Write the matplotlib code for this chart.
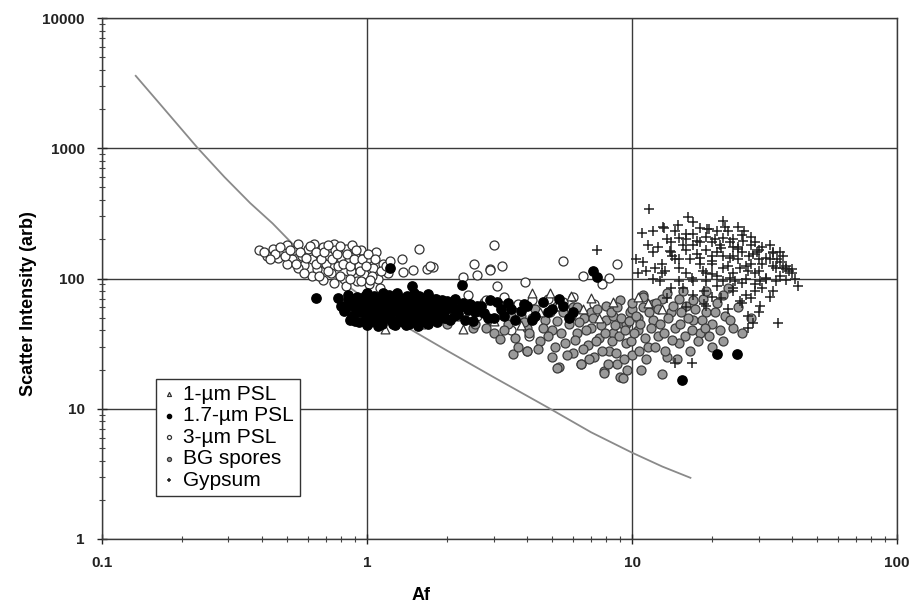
import matplotlib
matplotlib.use('Agg')
import matplotlib.pyplot as plt

plt.rcParams['font.family'] = ['Liberation Sans', 'DejaVu Sans']

# model curve
curve_x = [0.134, 0.17, 0.23, 0.29, 0.362, 0.44, 0.52, 0.62, 0.75, 0.87, 1.0, 1.2, 1.42, 2.0, 3.0, 4.78, 7.0, 10.0, 13.0, 16.6]
curve_y = [3600, 2050, 1000, 600, 380, 265, 187, 140, 105, 84, 68, 53, 42, 28, 17.5, 10.3, 6.6, 4.6, 3.6, 2.95]

# 1-um PSL (open triangles)
psl1_x = [1.17, 1.3, 1.5, 1.6, 1.8, 2.0, 2.3, 2.5, 2.7, 3.0, 3.2, 3.5, 3.8, 4.2, 4.9, 4.5, 5.2, 5.9, 6.5, 7.0, 7.5, 8.5, 10.5, 11.5, 13.0]
psl1_y = [41, 48, 62, 45, 55, 50, 41, 58, 65, 47, 53, 60, 44, 77.6, 77.6, 55, 62, 73.8, 58, 71, 50, 66, 72, 65, 58]

# 1.7-um PSL (filled black)
psl17_x = [0.80, 0.82, 0.85, 0.88, 0.90, 0.92, 0.95, 0.97, 1.0, 1.0, 1.02, 1.05, 1.08, 1.1, 1.12, 1.15, 1.18, 1.2,
           1.22, 1.25, 1.28, 1.3, 1.32, 1.35, 1.38, 1.4, 1.42, 1.45, 1.48, 1.5, 1.55, 1.58, 1.6, 1.65, 1.68, 1.7,
           1.75, 1.8, 1.85, 1.9, 1.95, 2.0, 2.05, 2.1, 2.2, 2.3, 2.4, 2.5, 2.6, 2.75, 2.9, 3.0, 3.2, 3.4, 3.6, 3.8,
           4.0, 4.3, 4.6, 5.0, 5.5, 6.0,
           0.9, 1.0, 1.1, 1.25, 1.4, 1.55, 1.7, 0.85, 1.0, 1.15, 1.3, 1.5, 1.7,
           0.64, 0.78, 1.48, 2.28, 7.1, 7.4, 21.0, 24.9, 15.4, 1.22,
           0.84, 0.86, 0.87, 0.89, 0.91, 0.93, 0.94, 0.96, 0.98, 0.99,
           1.03, 1.04, 1.06, 1.07, 1.09, 1.11, 1.13, 1.14, 1.16, 1.17,
           1.19, 1.21, 1.23, 1.24, 1.26, 1.27, 1.29, 1.31, 1.33, 1.34,
           1.36, 1.37, 1.39, 1.41, 1.43, 1.44, 1.46, 1.47, 1.49, 1.52,
           1.53, 1.56, 1.57, 1.59, 1.62, 1.63, 1.66, 1.67, 1.72, 1.73,
           1.77, 1.79, 1.82, 1.84, 1.88, 1.92, 1.97, 2.02, 2.12, 2.15,
           2.25, 2.35, 2.45, 2.55, 2.7, 2.85, 3.1, 3.3, 3.5, 3.9, 4.2, 4.8, 5.3, 5.8]
psl17_y = [62, 56, 68, 52, 60, 72, 55, 64, 50, 58, 70, 62, 54, 66, 48, 58, 72, 52,
           62, 56, 68, 47, 60, 53, 65, 58, 74, 50, 62, 56, 68, 52, 60, 46, 64, 55,
           70, 58, 50, 63, 55, 67, 48, 60, 53, 65, 57, 47, 62, 54, 68, 50, 58, 65, 48, 56,
           62, 52, 66, 58, 62, 55,
           47, 44, 43, 45, 44, 43, 45, 75, 77, 78, 78, 77, 76,
           70.5, 70.5, 88, 89, 115, 103, 26.4, 26.4, 16.7, 120,
           60, 48, 64, 70, 55, 46, 66, 59, 74, 52,
           46, 57, 73, 50, 60, 69, 55, 45, 64, 51,
           60, 75, 48, 66, 58, 44, 63, 54, 71, 49,
           60, 46, 68, 53, 62, 45, 56, 70, 48, 64,
           52, 59, 74, 47, 66, 55, 50, 61, 48, 66,
           53, 62, 70, 46, 57, 68, 50, 59, 52, 70,
           60, 48, 64, 55, 62, 50, 66, 52, 58, 64, 48, 55, 70, 50]

# 3-um PSL (open circles)
psl3_x = [0.39, 0.42, 0.44, 0.46, 0.48, 0.50, 0.52, 0.53, 0.55, 0.57, 0.58, 0.60, 0.62, 0.63, 0.65, 0.66, 0.68,
          0.70, 0.72, 0.73, 0.75, 0.76, 0.78, 0.80, 0.82, 0.83, 0.85, 0.87, 0.88, 0.90, 0.92, 0.93, 0.95, 0.97,
          1.0, 1.02, 1.05, 1.08, 1.1, 1.12, 1.15, 1.2, 0.62, 0.68, 0.75, 0.83, 0.55, 0.5, 0.45,
          0.41, 0.43, 0.47, 0.49, 0.51, 0.54, 0.56, 0.59, 0.61, 0.64, 0.64, 0.67, 0.69, 0.71, 0.71, 0.74,
          0.77, 0.79, 0.79, 0.81, 0.84, 0.86, 0.89, 0.91, 0.94, 0.96, 0.99, 1.01, 1.04, 1.07, 1.13, 1.18,
          0.86, 0.95, 1.03, 0.58, 0.66,
          1.57, 3.0, 5.5, 1.37, 1.49, 1.68, 1.77, 2.54, 2.92, 3.23, 2.3, 2.6, 3.95, 6.5, 7.7, 8.8, 8.2, 3.1,
          2.9, 1.22, 1.36, 1.73,
          1.8, 2.1, 2.4, 2.8, 3.3, 3.7, 4.2, 4.8, 5.5, 2.6, 3.5, 4.1, 6.0, 7.2]
psl3_y = [165, 150, 170, 145, 160, 180, 140, 165, 185, 150, 128, 170, 140, 185, 118, 155, 175,
          130, 150, 110, 185, 165, 125, 145, 100, 170, 135, 115, 180, 150, 95, 125, 165, 108,
          140, 90, 120, 160, 100, 85, 130, 110, 105, 98, 92, 88, 120, 130, 155,
          160, 140, 175, 150, 165, 130, 160, 145, 178, 160, 130, 140, 160, 180, 115, 140,
          155, 178, 105, 130, 155, 125, 140, 165, 115, 140, 125, 155, 105, 140, 115, 125,
          100, 95, 98, 110, 105,
          169, 181, 137, 112, 117, 119, 122, 130, 119, 125, 103, 107, 94, 105, 91, 130, 101, 88,
          117, 137, 142, 125,
          70, 62, 75, 68, 72, 64, 68, 70, 66, 52, 40, 36, 72, 64]

# BG spores (gray filled circles)
bg_x = [1.5, 1.7, 1.9, 2.0, 2.2, 2.4, 2.5, 2.7, 2.9, 3.0, 3.2, 3.4, 3.6, 3.8, 4.0, 4.0, 4.3, 4.5, 4.7, 5.0,
        5.0, 5.3, 5.5, 5.6, 5.8, 6.0, 6.2, 6.4, 6.6, 6.8, 7.0, 7.2, 7.5, 7.8, 8.0, 8.2, 8.5, 8.8, 9.0, 9.2,
        9.5, 9.8, 10.0, 10.5, 10.8, 11.0, 11.5, 12.0, 12.5, 13.0, 13.0, 13.5, 14.0, 14.5, 15.0, 15.5, 16.0,
        16.5, 17.0, 18.0, 18.5, 19.0, 20.0, 20.0, 21.0, 22.0, 22.5, 24.0, 25.0, 26.0, 23.0, 28.0,
        5.2, 6.4, 9.2, 3.56, 4.0, 7.8, 2.8, 2.56, 3.18,
        6.0, 7.0, 8.0, 9.0, 10.0, 11.0, 12.0, 8.5, 9.5, 10.5,
        3.3, 3.5, 3.7, 3.9, 4.1, 4.2, 4.4, 4.6, 4.8, 4.9, 5.1, 5.2, 5.4, 5.7, 5.9, 6.1, 6.3, 6.5, 6.7, 6.9,
        7.1, 7.3, 7.6, 7.7, 7.9, 8.1, 8.3, 8.4, 8.6, 8.7, 8.9, 9.1, 9.3, 9.4, 9.6, 9.7, 9.9, 10.2, 10.3,
        10.6, 10.7, 11.2, 11.3, 11.6, 11.8, 12.2, 12.3, 12.7, 13.2, 13.3, 13.7, 14.2, 14.3, 14.8, 15.2,
        15.3, 15.8, 16.2, 16.8, 17.3, 17.7, 18.3, 18.8, 19.5, 20.5, 21.5, 23.5, 22.0, 19.0, 17.0, 15.0,
        13.5, 12.5, 11.0, 10.0, 8.8, 7.4, 6.2, 5.2]
bg_y = [55, 48, 58, 45, 52, 60, 42, 55, 48, 38, 62, 45, 35, 52, 28, 42, 58, 33, 48, 25,
        40, 21, 55, 32, 45, 27, 38, 22, 50, 31, 42, 25, 35, 19.5, 48, 28, 38, 22, 17.5, 45,
        32, 55, 26, 40, 20, 60, 30, 48, 36, 18.5, 70, 25, 55, 42, 32, 80, 62,
        28, 48, 38, 70, 55, 30, 45, 65, 33, 52, 42, 60, 38, 85, 50,
        20.7, 22.2, 17.3, 26.4, 27.9, 18.9, 42, 45, 34.5,
        60, 55, 62, 68, 58, 75, 64, 52, 45, 50,
        40, 52, 30, 46, 38, 50, 29, 42, 36, 55, 30, 47, 38, 26, 52, 34, 46, 29, 40, 24,
        50, 33, 44, 28, 38, 22, 55, 33, 44, 27, 36, 50, 24, 40, 20, 47, 33, 38, 52,
        28, 45, 35, 24, 55, 42, 30, 65, 45, 38, 28, 50, 34, 62, 24, 45,
        55, 36, 50, 40, 58, 33, 48, 42, 36, 55, 40, 48, 75, 80, 68, 70,
        78, 58, 72, 65, 60, 58, 60, 62]

# Gypsum (plus)
gyp_x = [11.6, 16.2, 10.9, 13.1, 14.9, 13.9, 14.2, 10.3, 12.2, 13.3, 19.2, 22.1, 26.1, 25.2, 33.9, 37.2, 42.2,
         35.6, 27.3, 28.6, 27.3, 14.5, 16.8, 30.3, 29.2, 25.5, 21.6, 18.7, 16.8, 15.6, 18.1, 20.1, 23.4, 21.6,
         17.6, 16.0, 28.6, 31.0, 35.3, 38.2, 32.0, 27.3, 23.4, 20.1, 14.5, 12.7, 11.3, 13.6, 18.7, 24.0, 28.2,
         30.3, 7.35, 13.2,
         17, 19, 21, 23, 24, 26, 28, 30, 18, 20, 22, 25, 27, 29, 32, 34, 36, 16, 19, 21, 24, 26, 31, 35, 38,
         40, 15, 14, 16, 18, 22, 25, 20, 13, 11, 12, 14, 17, 19, 23, 27, 30, 33, 36, 28, 21, 24, 15, 17, 12.5,
         12, 12, 13.5, 14, 14.5, 15, 15.5, 16, 16.5, 17, 17.5, 18, 18.5, 19, 19.5, 20, 20.5, 21, 21.5, 22,
         22.5, 23, 23.5, 24, 24.5, 25, 25.5, 26, 26.5, 27, 27.5, 28, 29, 29.5, 30, 31, 32, 33, 34, 35,
         36, 37, 38, 39, 41, 40, 33, 30, 26, 22, 19, 17, 15, 13, 16, 20, 24, 29, 34, 11.5, 10.5]
gyp_y = [344, 298, 224, 250, 257, 163, 150, 142, 121, 115, 241, 205, 195, 169, 157, 121, 88,
         45.8, 51.8, 45.8, 41.8, 22.5, 22.5, 96, 80.5, 67.5, 71, 80.5, 101, 85, 144, 137, 144, 172,
         195, 221, 154, 130, 142, 119, 101, 115, 101, 108, 142, 96, 115, 71, 64, 85, 71,
         62, 166, 245,
         180, 210, 160, 230, 175, 215, 180, 165, 130, 150, 120, 140, 125, 110, 145, 125, 105, 110, 95, 88,
         110, 92, 85, 95, 98, 110, 140, 190, 165, 245, 275, 250, 190, 130, 135, 100, 85, 75, 62, 58, 75,
         140, 180, 160, 210, 230, 200, 205, 270, 175,
         160, 230, 200, 160, 230, 120, 180, 200, 140, 220, 155, 190, 115, 165, 240, 130, 200, 105, 180, 150,
         250, 125, 190, 150, 95, 175, 120, 160, 230, 100, 150, 130, 190, 160, 115, 175, 100, 140, 160, 120,
         135, 150, 125, 115, 100, 118, 72, 55, 65, 95, 110, 95, 95, 110, 60, 72, 80, 90, 80, 180, 110]

fig = plt.figure(figsize=(9.16, 6.1), dpi=100)
ax = fig.add_axes([0.1114, 0.1164, 0.868, 0.854])
ax.set_xscale('log')
ax.set_yscale('log')
ax.set_xlim(0.1, 100)
ax.set_ylim(1, 10000)

ax.grid(True, which='major', color='#3a3a3a', linewidth=1.0)
ax.set_axisbelow(True)

ax.plot(curve_x, curve_y, color='#8a8a8a', linewidth=1.3, zorder=2)

ax.scatter(psl3_x, psl3_y, s=42, marker='o', facecolors='white', edgecolors='#333333',
           linewidths=0.9, label='3-µm PSL', zorder=3)
ax.scatter(bg_x, bg_y, s=42, marker='o', facecolors='#9a9a9a', edgecolors='#3a3a3a',
           linewidths=0.9, label='BG spores', zorder=4)
ax.scatter(psl1_x, psl1_y, s=40, marker='^', facecolors='white', edgecolors='#333333',
           linewidths=0.9, label='1-µm PSL', zorder=5)
ax.scatter(psl17_x, psl17_y, s=45, marker='o', color='black', label='1.7-µm PSL', zorder=5)
ax.scatter(gyp_x, gyp_y, s=55, marker='+', color='#222222', linewidths=1.1, label='Gypsum', zorder=6)

ax.set_xticks([0.1, 1, 10, 100])
ax.set_xticklabels(['0.1', '1', '10', '100'])
ax.set_yticks([1, 10, 100, 1000, 10000])
ax.set_yticklabels(['1', '10', '100', '1000', '10000'])
ax.tick_params(which='major', direction='inout', length=7, width=1, pad=9, labelsize=11, colors='#222222')
ax.tick_params(which='minor', direction='inout', length=4, width=0.8, color='#444444')
for lab in ax.get_xticklabels() + ax.get_yticklabels():
    lab.set_fontweight('bold')
for sp in ax.spines.values():
    sp.set_color('#3a3a3a')
    sp.set_linewidth(1.0)

fig.text(29 / 916, 1 - 304 / 610, 'Scatter Intensity (arb)', rotation=90, ha='center', va='center',
         fontsize=13, fontweight='bold')
fig.text(421 / 916, 1 - 596 / 610, 'Af', ha='center', va='center', fontsize=13, fontweight='bold')

handles, labels = ax.get_legend_handles_labels()
order = ['1-µm PSL', '1.7-µm PSL', '3-µm PSL', 'BG spores', 'Gypsum']
hmap = dict(zip(labels, handles))
leg = ax.legend([hmap[k] for k in order], order, loc='lower left', bbox_to_anchor=(0.068, 0.0825),
                fontsize=15, markerscale=0.45, handlelength=0.6, handletextpad=0.4, labelspacing=0.12,
                borderpad=0.3, fancybox=False, framealpha=1, edgecolor='#333333', borderaxespad=0)
leg.get_frame().set_linewidth(1.0)

fig.savefig('out.png', dpi=100)
